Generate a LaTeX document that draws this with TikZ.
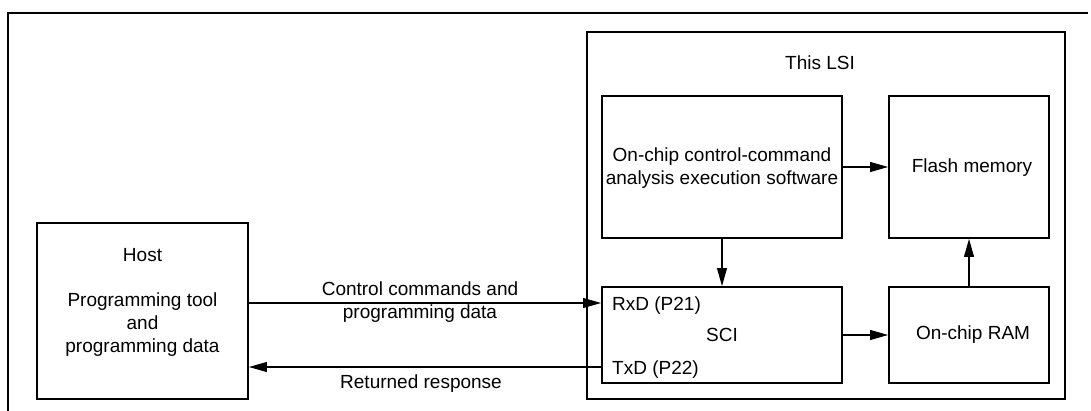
\documentclass[tikz,border=0pt]{standalone}
\usepackage{fontspec}
\setmainfont{Liberation Sans}
\usetikzlibrary{arrows.meta}
\begin{document}
\begin{tikzpicture}[x=1pt,y=-1pt,
  box/.style={draw,line width=1.9pt,inner sep=0pt},
  lbl/.style={inner sep=0pt,align=center,font=\fontsize{19}{23}\selectfont},
  arr/.style={line width=1.1pt,-{Triangle[length=18pt,width=10pt]}},
  conn/.style={line width=1.1pt}]
\useasboundingbox (0,0) rectangle (1091,410);
% outer frame
\coordinate (f1) at (8,13);
\coordinate (f2) at (1088,13);
\coordinate (f3) at (8,412);
\draw[line width=2.2pt] (f3) -- (f1) -- (f2);
% boxes
\node[box,minimum width=211pt,minimum height=176pt] (host) at (142.5,311) {};
\node[box,minimum width=478pt,minimum height=367pt] (lsi) at (826,215.5) {};
\node[box,minimum width=240pt,minimum height=142pt] (sw) at (722,167) {};
\node[box,minimum width=160pt,minimum height=142pt] (flash) at (969,167) {};
\node[box,minimum width=240pt,minimum height=96pt] (sci) at (722,335) {};
\node[box,minimum width=160pt,minimum height=96pt] (ram) at (969,335) {};
% texts
\node[lbl] (hostt) at (142.5,255) {Host};
\node[lbl] (hostd) at (142.5,325) {Programming tool\\and\\programming data};
\node[lbl] (lsit) at (820,63) {This LSI};
\node[lbl] (swt) at (722,168.5) {On-chip control-command\\analysis execution software};
\node[lbl] (flasht) at (972,168) {Flash memory};
\node[lbl] (scit) at (722,335) {SCI};
\node[lbl,anchor=west] (rxd) at (612,306) {RxD (P21)};
\node[lbl,anchor=west] (txd) at (612,370) {TxD (P22)};
\node[lbl] (ramt) at (973,335) {On-chip RAM};
\node[lbl] (cc) at (420,302) {Control commands and\\programming data};
\node[lbl] (rr) at (421,384) {Returned response};
% connectors
\coordinate (yup) at (0,303);
\coordinate (ylo) at (0,367);
\draw[arr] (host.east |- yup) -- (sci.west |- yup);
\draw[arr] (sci.west |- ylo) -- (host.east |- ylo);
\draw[arr] (sw) -- (flash);
\draw[arr] (sw) -- (sci);
\draw[arr] (ram) -- (flash);
\draw[arr] (sci) -- (ram);
\end{tikzpicture}
\end{document}
